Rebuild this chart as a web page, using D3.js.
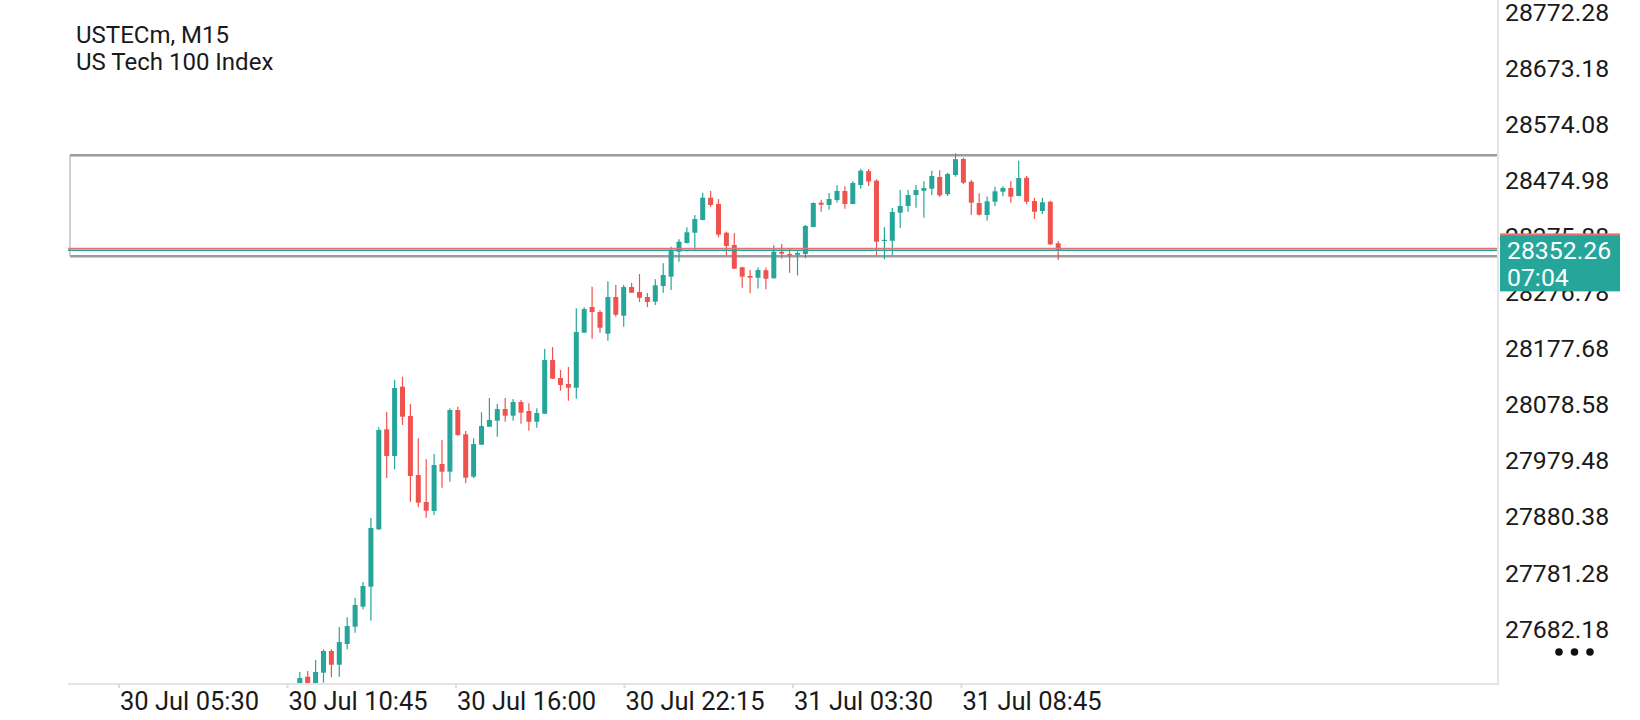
<!DOCTYPE html>
<html>
<head>
<meta charset="utf-8">
<script src="https://cdn.jsdelivr.net/npm/d3@7/dist/d3.min.js"></script>
<style>
  html, body { margin: 0; padding: 0; background: #ffffff; }
  svg { display: block; font-family: Roboto, 'Noto Sans', sans-serif; }
</style>
</head>
<body>
<div id="chart"></div>
<script>
// symbol header
const symbolTitle = "USTECm, M15";
const symbolName = "US Tech 100 Index";

// M15 candles, first visible one is the 30 Jul 11:00 slot
const firstSlot = 22;
const opens = [27579.19, 27599.15, 27579.19, 27606.22, 27644.54, 27620.35, 27656.91, 27687.47, 27722.80, 27758.13,
  27859.53, 28036.18, 27989.02, 28111.44, 28059.68, 27955.45, 27907.76, 27891.86, 27974.88, 27961.28,
  28070.27, 28027.35, 27952.45, 28008.98, 28040.77, 28051.37, 28072.04, 28060.21, 28084.41, 28068.51,
  28049.61, 28063.74, 28158.60, 28126.80, 28116.20, 28109.67, 28206.83, 28252.22, 28243.39, 28205.06,
  28269.89, 28236.86, 28287.55, 28278.72, 28269.89, 28261.59, 28289.32, 28305.75, 28349.91, 28365.28,
  28383.48, 28405.91, 28445.30, 28434.17, 28383.48, 28361.75, 28322.35, 28306.99, 28303.98, 28317.23,
  28302.92, 28349.91, 28345.85, 28344.44, 28345.85, 28393.54, 28436.47, 28432.41, 28441.24, 28457.14,
  28434.17, 28467.74, 28492.12, 28475.33, 28369.60, 28369.17, 28418.81, 28430.64, 28450.07, 28457.49,
  28461.20, 28481.87, 28451.49, 28485.40, 28513.67, 28473.57, 28435.94, 28414.74, 28438.24, 28455.90,
  28462.44, 28448.31, 28480.46, 28439.47, 28421.81, 28438.24, 28364.75];
const highs = [27607.45, 27609.22, 27628.65, 27647.55, 27647.55, 27686.94, 27704.08, 27738.70, 27766.44, 27879.49,
  28039.71, 28066.74, 28123.27, 28129.10, 28080.87, 28020.28, 27983.19, 27992.55, 28017.28, 28073.28,
  28076.10, 28033.18, 28020.28, 28066.21, 28091.47, 28080.87, 28091.47, 28089.71, 28087.94, 28082.11,
  28073.28, 28178.03, 28181.56, 28140.93, 28146.23, 28249.93, 28251.69, 28288.08, 28246.40, 28297.62,
  28291.09, 28291.62, 28294.62, 28310.52, 28276.96, 28301.16, 28329.42, 28358.75, 28371.82, 28393.02,
  28414.74, 28454.14, 28457.14, 28443.01, 28385.24, 28382.95, 28323.41, 28317.58, 28322.00, 28322.00,
  28361.22, 28363.51, 28355.92, 28350.62, 28397.08, 28437.18, 28441.77, 28453.61, 28467.21, 28465.62,
  28474.27, 28496.53, 28496.00, 28477.98, 28393.19, 28427.11, 28458.90, 28458.90, 28467.74, 28474.45,
  28492.82, 28493.71, 28489.47, 28523.74, 28515.96, 28476.57, 28453.08, 28447.42, 28464.74, 28465.62,
  28474.80, 28510.49, 28483.64, 28445.30, 28445.30, 28440.00, 28368.81];
const lows = [27575.65, 27575.65, 27575.65, 27588.55, 27598.09, 27599.15, 27647.55, 27676.87, 27718.21, 27698.07,
  27858.29, 27950.15, 27965.52, 28043.78, 27908.29, 27898.39, 27880.02, 27884.79, 27933.02, 27943.62,
  28024.35, 27940.79, 27950.15, 28008.45, 28040.24, 28023.11, 28049.61, 28051.37, 28046.07, 28033.71,
  28039.01, 28063.21, 28125.04, 28104.37, 28086.70, 28090.24, 28206.30, 28196.23, 28206.83, 28192.69,
  28235.09, 28217.42, 28276.96, 28261.06, 28252.22, 28255.76, 28277.49, 28282.25, 28332.25, 28364.40,
  28352.91, 28405.38, 28429.41, 28375.35, 28344.08, 28319.35, 28286.32, 28276.43, 28284.90, 28283.49,
  28302.57, 28337.90, 28312.82, 28307.87, 28338.26, 28393.02, 28420.58, 28424.11, 28436.82, 28425.87,
  28433.65, 28461.20, 28465.97, 28344.08, 28336.49, 28344.08, 28391.78, 28420.58, 28427.64, 28409.97,
  28450.07, 28446.54, 28448.31, 28482.40, 28469.50, 28414.74, 28413.86, 28404.67, 28430.64, 28447.78,
  28436.47, 28447.78, 28434.17, 28407.68, 28416.51, 28361.75, 28335.25];
const closes = [27596.85, 27579.19, 27607.45, 27644.54, 27620.35, 27660.45, 27688.71, 27725.81, 27759.37, 27861.83,
  28034.94, 27989.02, 28109.14, 28058.44, 27953.69, 27906.52, 27892.39, 27973.12, 27961.28, 28070.27,
  28026.11, 27950.68, 28010.21, 28042.01, 28052.61, 28072.04, 28060.21, 28084.41, 28065.51, 28049.61,
  28064.98, 28158.60, 28125.57, 28114.44, 28109.67, 28208.06, 28248.69, 28243.39, 28215.66, 28269.89,
  28238.62, 28287.55, 28277.49, 28268.65, 28261.06, 28290.56, 28308.75, 28352.91, 28367.58, 28384.18,
  28407.68, 28445.30, 28432.41, 28379.95, 28359.98, 28319.88, 28305.75, 28303.98, 28317.58, 28302.22,
  28349.91, 28346.38, 28344.44, 28347.62, 28395.31, 28435.94, 28432.94, 28443.01, 28457.14, 28434.17,
  28471.27, 28493.00, 28473.92, 28367.58, 28370.90, 28420.04, 28430.64, 28450.07, 28458.90, 28462.44,
  28483.64, 28449.54, 28487.17, 28513.31, 28471.80, 28436.47, 28415.27, 28438.94, 28456.61, 28462.44,
  28447.07, 28480.10, 28438.24, 28420.58, 28437.18, 28362.98, 28352.26];

// axis labels
const priceTicks = [28772.28, 28673.18, 28574.08, 28474.98, 28375.88, 28276.78,
  28177.68, 28078.58, 27979.48, 27880.38, 27781.28, 27682.18];
const timeTickSlots = [0, 21, 42, 63, 84, 105];
const timeTickLabels = ["30 Jul 05:30", "30 Jul 10:45", "30 Jul 16:00", "30 Jul 22:15", "31 Jul 03:30", "31 Jul 08:45"];

// price lines, rectangle object and live quote
const bidPrice = 28352.26;
const askPrice = 28355.76;
const rectHigh = 28520.2;
const rectLow = 28341.8;
const barTimer = "07:04";

const width = 1640, height = 720;
const plot = { left: 68, right: 1497, top: 0, bottom: 684 };
const teal = "#26a69a", red = "#ef5350";

const svg = d3.select("#chart").append("svg")
    .attr("width", width)
    .attr("height", height);

// scales: one band per M15 slot for the candles, price on the right
const slotCount = 174;
const x = d3.scaleBand()
    .domain(d3.range(slotCount))
    .range([122.05, 122.05 + slotCount * 7.9])
    .padding(0);
// time labels sit on their own, slightly wider grid
const xTime = d3.scaleLinear()
    .domain([0, 105])
    .range([119, 961.5]);
const y = d3.scaleLinear()
    .domain([27682.18, 28772.28])
    .range([629.7, 12.6]);

const candles = closes.map(function (c, i) {
    return { slot: firstSlot + i, o: opens[i], h: highs[i], l: lows[i], c: c };
});

svg.append("defs").append("clipPath")
    .attr("id", "clip")
    .append("rect")
    .attr("x", plot.left)
    .attr("y", plot.top)
    .attr("width", plot.right - plot.left)
    .attr("height", plot.bottom - plot.top);

// header text
svg.append("text")
    .attr("x", 76).attr("y", 43)
    .style("font-size", "24px").style("fill", "#1a1a1a")
    .text(symbolTitle);
svg.append("text")
    .attr("x", 76).attr("y", 70)
    .style("font-size", "24px").style("fill", "#1a1a1a")
    .text(symbolName);

// rectangle object
const rectG = svg.append("g").attr("clip-path", "url(#clip)");
rectG.append("line")
    .attr("x1", 70).attr("x2", 70)
    .attr("y1", y(rectHigh)).attr("y2", y(rectLow))
    .style("stroke", "#b0b0b0").style("stroke-width", 1.2);
[rectHigh, rectLow].forEach(function (p) {
    rectG.append("line")
        .attr("x1", 70).attr("x2", plot.right)
        .attr("y1", y(p)).attr("y2", y(p))
        .style("stroke", "#9c9c9c").style("stroke-width", 2.6);
});

// candles
const cg = svg.append("g").attr("clip-path", "url(#clip)");
const candle = cg.selectAll("g.candle")
    .data(candles)
    .enter().append("g")
    .attr("class", "candle");

candle.append("line")
    .attr("x1", function (d) { return x(d.slot) + x.bandwidth() / 2; })
    .attr("x2", function (d) { return x(d.slot) + x.bandwidth() / 2; })
    .attr("y1", function (d) { return y(d.h); })
    .attr("y2", function (d) { return y(d.l); })
    .style("stroke", function (d) { return d.c >= d.o ? teal : red; })
    .style("stroke-width", 1.2);

candle.append("rect")
    .attr("x", function (d) { return x(d.slot) + x.bandwidth() / 2 - 2.5; })
    .attr("width", 5)
    .attr("y", function (d) { return y(Math.max(d.o, d.c)); })
    .attr("height", function (d) { return Math.max(1.2, Math.abs(y(d.o) - y(d.c))); })
    .style("fill", function (d) { return d.c >= d.o ? teal : red; });

// bid / ask lines
svg.append("line")
    .attr("x1", plot.left).attr("x2", plot.right)
    .attr("y1", y(askPrice)).attr("y2", y(askPrice))
    .style("stroke", "#e57373").style("stroke-width", 1.5);
svg.append("line")
    .attr("x1", plot.left).attr("x2", plot.right)
    .attr("y1", y(bidPrice)).attr("y2", y(bidPrice))
    .style("stroke", teal).style("stroke-width", 1.5);

// frame: right separator and bottom axis
svg.append("line")
    .attr("x1", plot.right + 1).attr("x2", plot.right + 1)
    .attr("y1", 0).attr("y2", plot.bottom + 1)
    .style("stroke", "#e4e4e4").style("stroke-width", 2);

const xAxis = svg.append("g")
    .attr("transform", "translate(0," + plot.bottom + ")")
    .style("font-family", "Roboto, 'Noto Sans', sans-serif")
    .call(d3.axisBottom(xTime)
        .tickValues(timeTickSlots)
        .tickFormat(function (d) { return timeTickLabels[timeTickSlots.indexOf(d)]; })
        .tickSize(4)
        .tickPadding(6)
        .offset(0));
xAxis.select(".domain").remove();
xAxis.insert("line", ":first-child")
    .attr("x1", plot.left).attr("x2", plot.right + 2)
    .attr("y1", 0).attr("y2", 0)
    .style("stroke", "#e4e4e4").style("stroke-width", 2);
xAxis.selectAll(".tick line").style("stroke", "#dcdcdc").style("stroke-width", 2);
xAxis.selectAll(".tick text")
    .attr("text-anchor", "start")
    .attr("x", 1)
    .attr("y", 8)
    .attr("dy", "0.71em")
    .style("font-size", "25.5px")
    .style("fill", "#1a1a1a");

// price axis
const yAxis = svg.append("g")
    .attr("transform", "translate(" + (plot.right + 1) + ",0)")
    .style("font-family", "Roboto, 'Noto Sans', sans-serif")
    .call(d3.axisRight(y)
        .tickValues(priceTicks)
        .tickFormat(d3.format(".2f"))
        .tickSize(0)
        .tickPadding(7)
        .offset(0));
yAxis.select(".domain").remove();
yAxis.selectAll(".tick text")
    .style("font-size", "24.8px")
    .style("fill", "#1a1a1a");

// live quote box
const boxY = y(bidPrice) - 15;
svg.append("rect")
    .attr("x", plot.right + 3).attr("y", boxY - 2)
    .attr("width", 120).attr("height", 10)
    .style("fill", "#e57373");
svg.append("rect")
    .attr("x", plot.right + 3).attr("y", boxY)
    .attr("width", 120).attr("height", 56)
    .style("fill", teal);
svg.append("text")
    .attr("x", plot.right + 10).attr("y", boxY + 24)
    .style("font-size", "24.8px").style("fill", "#ffffff")
    .text(d3.format(".2f")(bidPrice));
svg.append("text")
    .attr("x", plot.right + 10).attr("y", boxY + 51)
    .style("font-size", "24.8px").style("fill", "#ffffff")
    .text(barTimer);

// menu dots
svg.selectAll("circle.dot")
    .data([0, 1, 2])
    .enter().append("circle")
    .attr("class", "dot")
    .attr("cx", function (d) { return 1559 + d * 15.5; })
    .attr("cy", 652)
    .attr("r", 3.8)
    .style("fill", "#111111");
</script>
</body>
</html>
